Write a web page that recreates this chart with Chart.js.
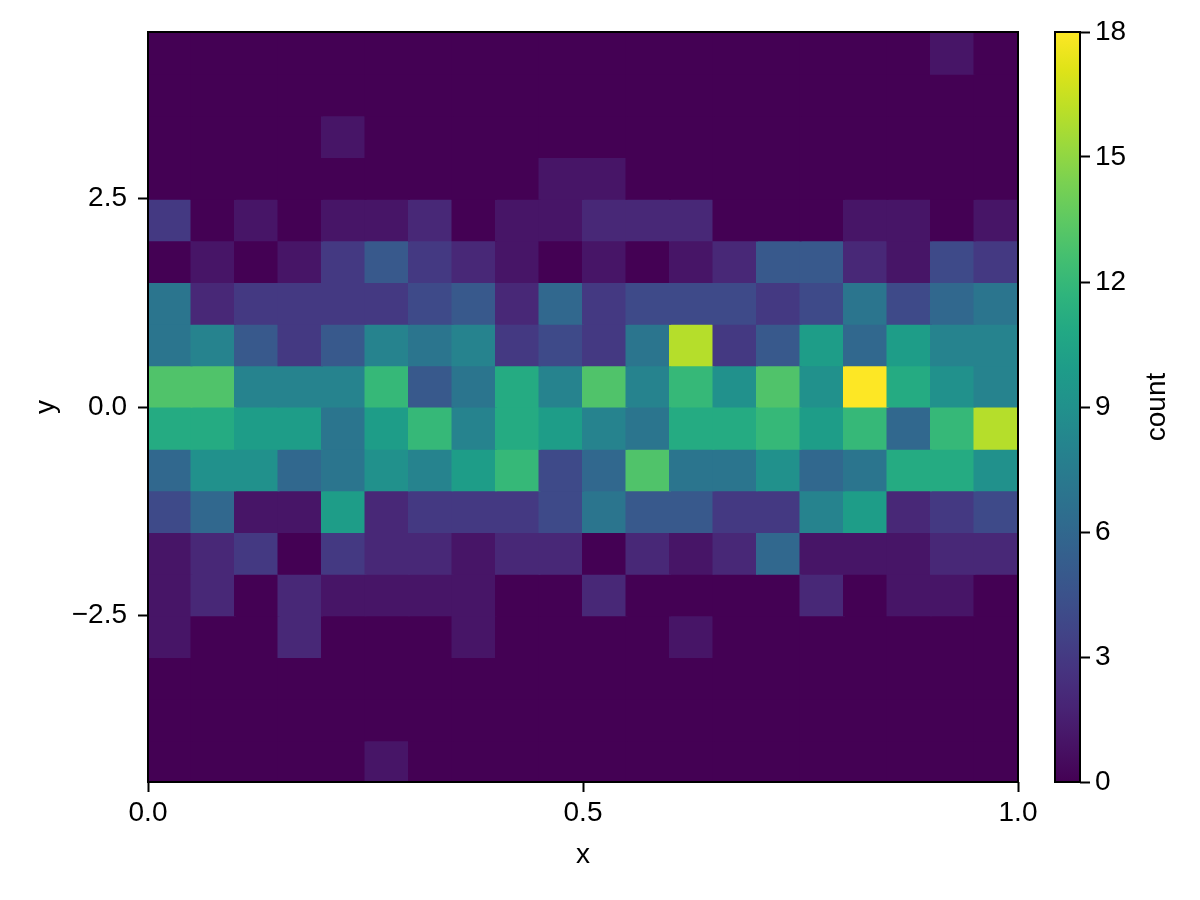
<!DOCTYPE html>
<html>
<head>
<meta charset="utf-8">
<script src="https://cdn.jsdelivr.net/npm/chart.js@4.4.1/dist/chart.umd.min.js"></script>
<style>
  html, body { margin: 0; padding: 0; background: #fff; }
  #wrap { position: relative; width: 1200px; height: 900px; }
  #wrap canvas { position: absolute; left: 0; top: 0; }
</style>
</head>
<body>
<div id="wrap">
  <canvas id="heat" width="1200" height="900"></canvas>
  <canvas id="cbar" width="1200" height="900"></canvas>
</div>
<script>
// bin edges
const xEdges = [0, 0.05, 0.1, 0.15, 0.2, 0.25, 0.3, 0.35, 0.4, 0.45, 0.5,
                0.55, 0.6, 0.65, 0.7, 0.75, 0.8, 0.85, 0.9, 0.95, 1.0];
// top -> bottom
const yEdges = [4.5, 4.0, 3.5, 3.0, 2.5, 2.0, 1.5, 1.0, 0.5, 0,
                -0.5, -1.0, -1.5, -2.0, -2.5, -3.0, -3.5, -4.0, -4.5];

// counts, one row per y bin (top row first), one value per x bin
const counts = [
  [0,0,0,0,0,0,0,0,0,0, 0,0,0,0,0,0,0,0,1,0],
  [0,0,0,0,0,0,0,0,0,0, 0,0,0,0,0,0,0,0,0,0],
  [0,0,0,0,1,0,0,0,0,0, 0,0,0,0,0,0,0,0,0,0],
  [0,0,0,0,0,0,0,0,0,1, 1,0,0,0,0,0,0,0,0,0],
  [3,0,1,0,1,1,2,0,1,1, 2,2,2,0,0,0,1,1,0,1],
  [0,1,0,1,3,5,3,2,1,0, 1,0,1,2,5,5,2,1,4,3],
  [7,2,3,3,3,3,4,5,2,6, 3,4,4,4,3,4,7,4,6,7],
  [7,8,5,3,5,8,7,8,3,4, 3,7,16,3,5,10,6,10,8,8],
  [13,13,8,8,8,12,5,7,11,8, 13,8,12,9,13,9,18,11,9,8],
  [11,11,10,10,7,10,12,8,11,10, 8,7,11,11,12,10,12,6,12,16],
  [6,9,9,6,7,9,8,10,12,4, 6,13,7,7,9,6,7,11,11,9],
  [4,6,1,1,10,2,3,3,3,4, 7,5,5,3,3,8,10,2,3,4],
  [1,2,3,0,3,2,2,1,2,2, 0,2,1,2,6,1,1,1,2,2],
  [1,2,0,2,1,1,1,1,0,0, 2,0,0,0,0,2,0,1,1,0],
  [1,0,0,2,0,0,0,1,0,0, 0,0,1,0,0,0,0,0,0,0],
  [0,0,0,0,0,0,0,0,0,0, 0,0,0,0,0,0,0,0,0,0],
  [0,0,0,0,0,0,0,0,0,0, 0,0,0,0,0,0,0,0,0,0],
  [0,0,0,0,0,1,0,0,0,0, 0,0,0,0,0,0,0,0,0,0],
];

const xTicks = [0, 0.5, 1.0];
const yTicks = [-2.5, 0, 2.5];
const cTicks = [0, 3, 6, 9, 12, 15, 18];
const cMin = 0, cMax = 18;

// viridis, sampled every 0.05
const VIRIDIS = ['#440154','#471365','#482475','#463480','#414487','#3b528b','#355f8d',
  '#2f6c8e','#2a788e','#25848e','#21918c','#1e9c89','#22a884','#2fb47c','#44bf70',
  '#5ec962','#7ad151','#9bd93c','#bddf26','#dfe318','#fde725'];

function hexRgb(h) {
  return [parseInt(h.slice(1, 3), 16), parseInt(h.slice(3, 5), 16), parseInt(h.slice(5, 7), 16)];
}
function viridis(t) {
  t = Math.max(0, Math.min(1, t));
  const p = t * (VIRIDIS.length - 1);
  const i = Math.min(Math.floor(p), VIRIDIS.length - 2);
  const f = p - i;
  const a = hexRgb(VIRIDIS[i]), b = hexRgb(VIRIDIS[i + 1]);
  const c = a.map((v, k) => Math.round(v + (b[k] - v) * f));
  return `rgb(${c[0]},${c[1]},${c[2]})`;
}

const FONT = '"Liberation Sans", Arial, sans-serif';
Chart.defaults.font.family = FONT;
Chart.defaults.font.size = 28;
Chart.defaults.color = '#000';

const framePlugin = {
  id: 'frame',
  afterDraw(chart) {
    const { ctx, chartArea: a } = chart;
    ctx.save();
    ctx.strokeStyle = '#000';
    ctx.lineWidth = 2;
    ctx.strokeRect(a.left, a.top, a.right - a.left, a.bottom - a.top);
    ctx.restore();
  }
};

const tickGrid = { drawOnChartArea: false, drawTicks: true, tickLength: 10, tickColor: '#000', tickWidth: 2 };
const fmt = v => Number(v).toFixed(1).replace('-', '\u2212');

new Chart(document.getElementById('heat'), {
  type: 'bar',
  data: {
    datasets: counts.map((row, r) => ({
      data: row.map((c, i) => ({ x: (xEdges[i] + xEdges[i + 1]) / 2, y: [yEdges[r + 1], yEdges[r]] })),
      backgroundColor: row.map(c => viridis((c - cMin) / (cMax - cMin))),
      borderWidth: 0,
      inflateAmount: 1,
      grouped: false,
      barPercentage: 1,
      categoryPercentage: 1,
    }))
  },
  options: {
    responsive: false,
    animation: false,
    devicePixelRatio: 1,
    layout: { padding: { left: 25, top: 32, right: 182, bottom: 24 } },
    plugins: { legend: { display: false }, tooltip: { enabled: false } },
    scales: {
      x: {
        type: 'linear', min: xEdges[0], max: xEdges[xEdges.length - 1], offset: false,
        afterBuildTicks: s => { s.ticks = xTicks.map(v => ({ value: v })); },
        afterFit: s => { s.height = 94; },
        ticks: { padding: 4, maxRotation: 0, callback: fmt },
        grid: { ...tickGrid, offset: false },
        border: { display: false },
        title: { display: true, text: 'x' }
      },
      y: {
        type: 'linear', min: yEdges[yEdges.length - 1], max: yEdges[0],
        afterBuildTicks: s => { s.ticks = yTicks.map(v => ({ value: v })); },
        afterFit: s => { s.width = 123; },
        ticks: { padding: 11, callback: fmt },
        grid: tickGrid,
        border: { display: false },
        title: { display: true, text: 'y' }
      }
    }
  },
  plugins: [framePlugin]
});

const cbarLabel = {
  id: 'cbarLabel',
  afterDraw(chart) {
    const { ctx, chartArea: a } = chart;
    ctx.save();
    ctx.translate(a.right + 77, (a.top + a.bottom) / 2);
    ctx.rotate(-Math.PI / 2);
    ctx.font = '28px ' + FONT;
    ctx.fillStyle = '#000';
    ctx.textAlign = 'center';
    ctx.textBaseline = 'middle';
    ctx.fillText('count', 0, 0);
    ctx.restore();
  }
};

new Chart(document.getElementById('cbar'), {
  type: 'bar',
  data: {
    labels: ['count'],
    datasets: [{
      data: [[cMin, cMax]],
      backgroundColor: c => {
        const a = c.chart.chartArea;
        if (!a) return VIRIDIS[0];
        const g = c.chart.ctx.createLinearGradient(0, a.bottom, 0, a.top);
        VIRIDIS.forEach((col, i) => g.addColorStop(i / (VIRIDIS.length - 1), col));
        return g;
      },
      borderWidth: 0,
      barPercentage: 1,
      categoryPercentage: 1,
    }]
  },
  options: {
    responsive: false,
    animation: false,
    devicePixelRatio: 1,
    layout: { padding: { left: 1055, top: 32, right: 0, bottom: 118 } },
    plugins: { legend: { display: false }, tooltip: { enabled: false } },
    scales: {
      x: { display: false },
      y: {
        position: 'right', min: cMin, max: cMax,
        afterBuildTicks: s => { s.ticks = cTicks.map(v => ({ value: v })); },
        afterFit: s => { s.width = 120; },
        ticks: { padding: 5 },
        grid: { ...tickGrid },
        border: { display: false }
      }
    }
  },
  plugins: [framePlugin, cbarLabel]
});
</script>
</body>
</html>
